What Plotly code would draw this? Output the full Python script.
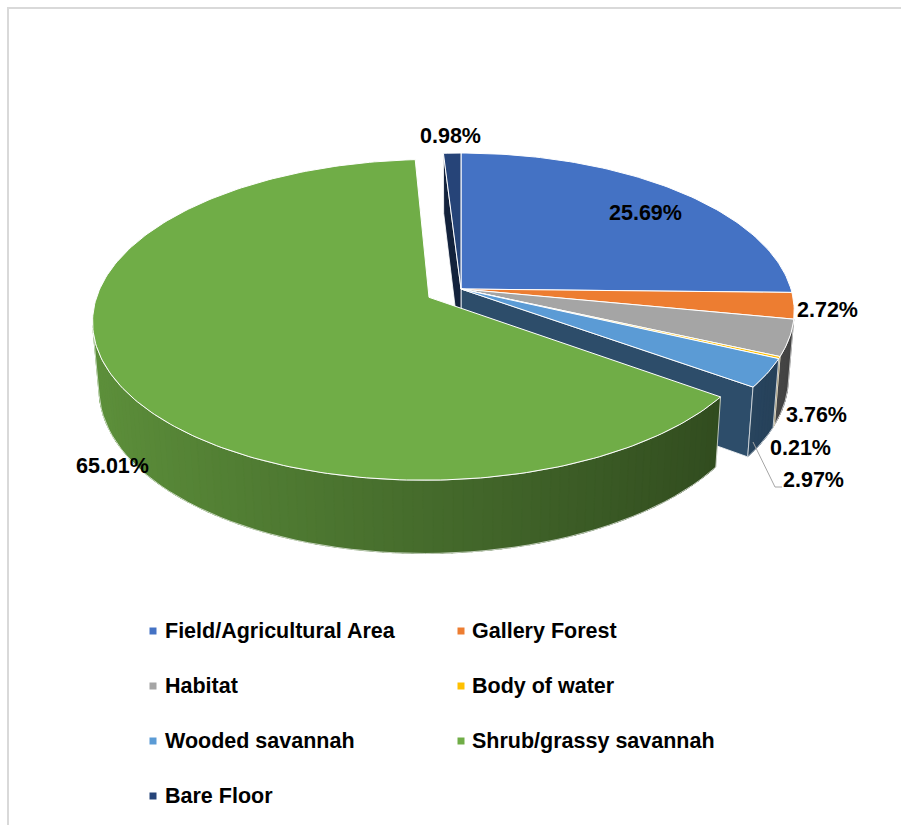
import numpy as np
import plotly.graph_objects as go

# ---------------- data ----------------
categories = ["Field/Agricultural Area", "Gallery Forest", "Habitat", "Body of water",
              "Wooded savannah", "Shrub/grassy savannah", "Bare Floor"]
values = [25.69, 2.72, 3.76, 0.21, 2.97, 65.01, 0.98]
value_labels = ["25.69%", "2.72%", "3.76%", "0.21%", "2.97%", "65.01%", "0.98%"]
colors = ["#4472C4", "#ED7D31", "#A5A5A5", "#FFC000", "#5B9BD5", "#70AD47", "#264478"]
explode = [0, 0, 0, 0, 0, 0.11, 0]

# ---------------- layout / projection settings ----------------
W, H = 901, 825
CX, CY = 461, 289          # screen position of pie centre
FOC = 2092.0               # focal length (px)
DIST = 6.34                # camera distance (in pie radii)
PHI = np.radians(28)       # elevation angle
DEPTH = 0.23               # pie thickness (in radii)
S, C = np.sin(PHI), np.cos(PHI)
CAM = np.array([0.0, DIST * S, DIST * C])

LABEL_POS = {"25.69%": (645, 213), "2.72%": (827, 310), "3.76%": (816, 415),
             "0.21%": (800, 448), "2.97%": (813, 480), "65.01%": (112, 466),
             "0.98%": (450, 136)}
LEADER = [(753, 442), (775, 487), (782, 487)]
LEG_ROWS = [631, 686, 741, 796]
LEG_COLS = [(153, 163), (461, 470)]
FONT = "Arial, 'Liberation Sans', sans-serif"
FSIZE = 21.5


def project(x, y, z):
    px, py, pz = x, y - CAM[1], z - CAM[2]
    zc = -(py * S + pz * C)
    yc = py * C - pz * S
    return CX + FOC * px / zc, CY - FOC * yc / zc


def shade(hexcol, f):
    h = hexcol.lstrip("#")
    r, g, b = [int(h[i:i + 2], 16) for i in (0, 2, 4)]
    return "rgb(%d,%d,%d)" % (min(255, r * f), min(255, g * f), min(255, b * f))


def poly(pts3d):
    xs, ys = [], []
    for p in pts3d:
        sx, sy = project(*p)
        xs.append(sx)
        ys.append(sy)
    xs.append(xs[0])
    ys.append(ys[0])
    return xs, ys


fig = go.Figure()


def add_fill(xs, ys, fill, line_col=None, lw=0.0):
    fig.add_trace(go.Scatter(
        x=xs, y=ys, mode="lines", fill="toself", fillcolor=fill,
        line=dict(color=line_col if line_col else fill, width=lw),
        hoverinfo="skip", showlegend=False))


def add_line(xs, ys, col="white", lw=1.0):
    fig.add_trace(go.Scatter(x=xs, y=ys, mode="lines", line=dict(color=col, width=lw),
                             hoverinfo="skip", showlegend=False))


total = sum(values)
cum = np.concatenate([[0], np.cumsum(values)])
angles = [(cum[i] / total * 360, cum[i + 1] / total * 360) for i in range(len(values))]
n = len(values)


def visible(normal, point):
    return np.dot(normal, CAM - np.array(point)) > 0


def draw_slice_faces(i):
    a0, a1 = np.radians(angles[i][0]), np.radians(angles[i][1])
    am = 0.5 * (a0 + a1)
    e = explode[i]
    ox, oz = e * np.sin(am), -e * np.cos(am)
    col = colors[i]
    # radial cut faces
    for which, a, nb in (("start", a0, (i - 1) % n), ("end", a1, (i + 1) % n)):
        if explode[i] == 0 and explode[nb] == 0:
            continue
        if which == "start":
            nrm = np.array([-np.cos(a), 0, -np.sin(a)])
        else:
            nrm = np.array([np.cos(a), 0, np.sin(a)])
        pm = (0.5 * np.sin(a) + ox, -DEPTH / 2, -0.5 * np.cos(a) + oz)
        if visible(nrm, pm):
            pts = [(ox, 0, oz), (np.sin(a) + ox, 0, -np.cos(a) + oz),
                   (np.sin(a) + ox, -DEPTH, -np.cos(a) + oz), (ox, -DEPTH, oz)]
            xs, ys = poly(pts)
            add_fill(xs, ys, shade(col, 0.5), "white", 0.8)
    # outer side wall (shaded in narrow bands, each band overlapping the next)
    step = np.radians(1.5)
    nseg = max(1, int(np.ceil((a1 - a0) / step)))
    ts = np.linspace(a0, a1, nseg + 1)
    dt = (a1 - a0) / nseg
    vis_runs, run = [], []
    for k in range(nseg):
        t0, t1 = ts[k], ts[k + 1]
        tm = 0.5 * (t0 + t1)
        nrm = np.array([np.sin(tm), 0, -np.cos(tm)])
        pm = (np.sin(tm) + ox, -DEPTH / 2, -np.cos(tm) + oz)
        if visible(nrm, pm):
            u0 = max(a0, t0 - 0.6 * dt)
            u1 = min(a1, t1 + 0.6 * dt)
            uu = np.linspace(u0, u1, 4)
            top = [(np.sin(t) + ox, 0, -np.cos(t) + oz) for t in uu]
            bot = [(np.sin(t) + ox, -DEPTH, -np.cos(t) + oz) for t in uu[::-1]]
            xs, ys = poly(top + bot)
            f = 0.62 - 0.22 * np.sin(tm)
            c = shade(col, f)
            add_fill(xs, ys, c, c, 0.5)
            run.append((t0, t1))
        else:
            if run:
                vis_runs.append(run)
                run = []
    if run:
        vis_runs.append(run)
    for run in vis_runs:
        tt = np.linspace(run[0][0], run[-1][1], 60)
        top = [(np.sin(t) + ox, 0, -np.cos(t) + oz) for t in tt]
        bot = [(np.sin(t) + ox, -DEPTH, -np.cos(t) + oz) for t in tt[::-1]]
        xs, ys = poly(top + bot)
        add_line(xs, ys, "rgba(255,255,255,0.85)", 0.8)


def draw_slice_top(i):
    a0, a1 = np.radians(angles[i][0]), np.radians(angles[i][1])
    am = 0.5 * (a0 + a1)
    e = explode[i]
    ox, oz = e * np.sin(am), -e * np.cos(am)
    tt = np.linspace(a0, a1, max(3, int(np.degrees(a1 - a0)) + 2))
    pts = [(ox, 0, oz)] + [(np.sin(t) + ox, 0, -np.cos(t) + oz) for t in tt]
    xs, ys = poly(pts)
    add_fill(xs, ys, colors[i], "white", 1.0)


still = [i for i in range(n) if explode[i] == 0]
moved = [i for i in range(n) if explode[i] != 0]
for grp in (still, moved):
    for i in grp:
        draw_slice_faces(i)
    for i in grp:
        draw_slice_top(i)

# leader line for the small slice label
add_line([p[0] for p in LEADER], [p[1] for p in LEADER], "#A6A6A6", 1.0)

annotations = []
for lab in value_labels:
    x, y = LABEL_POS[lab]
    annotations.append(dict(x=x, y=y, text="<b>%s</b>" % lab, showarrow=False,
                            xref="x", yref="y", xanchor="center", yanchor="middle",
                            font=dict(family=FONT, size=FSIZE, color="#000000")))

# legend (two columns)
for k, (cat, col) in enumerate(zip(categories, colors)):
    row, colm = divmod(k, 2)
    mx, tx = LEG_COLS[colm]
    y = LEG_ROWS[row]
    fig.add_trace(go.Scatter(x=[mx], y=[y], mode="markers",
                             marker=dict(symbol="square", size=7, color=col, line=dict(width=0)),
                             hoverinfo="skip", showlegend=False))
    annotations.append(dict(x=tx, y=y, text="<b>%s</b>" % cat, showarrow=False,
                            xref="x", yref="y", xanchor="left", yanchor="middle",
                            font=dict(family=FONT, size=FSIZE, color="#000000")))

fig.update_layout(
    width=W, height=H, margin=dict(l=0, r=0, t=0, b=0),
    paper_bgcolor="white", plot_bgcolor="white",
    xaxis=dict(range=[0, W], visible=False, fixedrange=True),
    yaxis=dict(range=[H, 0], visible=False, fixedrange=True),
    annotations=annotations,
    shapes=[dict(type="rect", xref="x", yref="y", x0=8, y0=8, x1=W + 10, y1=H + 10,
                 line=dict(color="#D9D9D9", width=2))],
    showlegend=False,
)

fig.write_html("out.html")
